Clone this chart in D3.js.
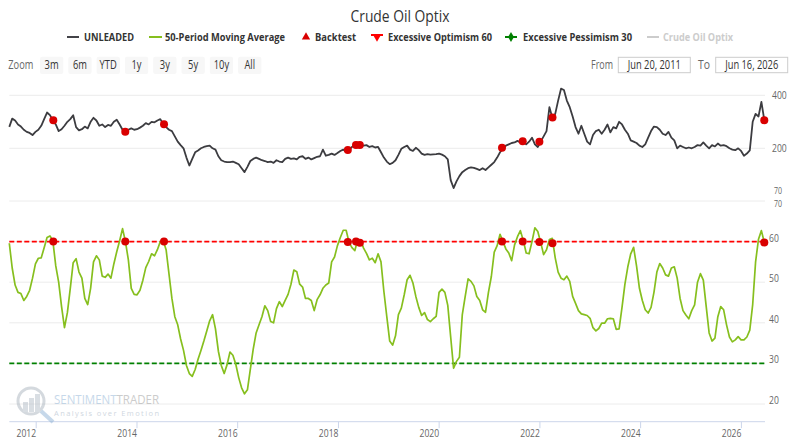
<!DOCTYPE html>
<html>
<head>
<meta charset="utf-8">
<script src="https://cdn.jsdelivr.net/npm/d3@7"></script>
<style>
  body { margin: 0; background: #fff; }
  text { font-family: "Open Sans", sans-serif; }
</style>
</head>
<body>
<svg id="chart" width="800" height="447"></svg>
<script>
// range shown by the navigator
var startDate = new Date(2011, 5, 20),
  endDate = new Date(2026, 5, 16);

// UNLEADED (cents), read every ~3 weeks
var unleaded = [
  281, 312, 305, 290, 282, 270, 262, 258, 250, 262,
  270, 285, 310, 335, 325, 306, 290, 265, 272, 285,
  300, 310, 325, 280, 268, 272, 282, 275, 300, 315,
  305, 285, 290, 280, 288, 285, 300, 308, 290, 270,
  262, 270, 275, 270, 272, 278, 285, 295, 290, 300,
  298, 305, 310, 292, 280, 270, 265, 245, 225, 212,
  200, 165, 135, 160, 185, 192, 200, 205, 208, 210,
  200, 195, 170, 155, 150, 148, 148, 150, 145, 140,
  125, 110, 130, 152, 160, 165, 160, 155, 152, 148,
  150, 145, 155, 150, 148, 160, 165, 160, 162, 158,
  168, 170, 160, 165, 158, 163, 168, 170, 195, 172,
  175, 180, 175, 182, 190, 195, 188, 194, 205, 212,
  218, 212, 210, 212, 205, 208, 203, 205, 185, 165,
  150, 140, 145, 155, 175, 198, 205, 210, 195, 190,
  202, 193, 180, 175, 178, 176, 177, 178, 180, 176,
  170, 158, 80, 50, 75, 95, 110, 118, 125, 128,
  126, 122, 118, 125, 118, 128, 138, 148, 165, 185,
  198, 210, 215, 220, 222, 228, 222, 226, 215, 225,
  240, 215, 205, 225, 245, 265, 355, 315, 330, 380,
  425, 420, 380, 355, 320, 280, 255, 285, 255, 225,
  215, 250, 265, 270, 255, 270, 290, 260, 280, 275,
  300, 290, 270, 255, 230, 225, 220, 210, 205, 215,
  240, 265, 282, 280, 270, 255, 250, 262, 240, 230,
  200, 210, 205, 200, 203, 200, 205, 212, 210, 222,
  210, 200, 212, 207, 218, 210, 212, 208, 200, 195,
  193, 200, 190, 172, 180, 192, 300, 330, 320, 375,
  306
];

// Crude Oil Optix, 50-period moving average
var optixMA = [
  59.6, 53.5, 49.3, 47.5, 47.2, 45.5, 46.5, 48.0, 51.0, 54.5,
  55.9, 56.0, 58.5, 61.0, 61.4, 60.2, 54, 50, 44, 38.8,
  42.5, 48.5, 54.8, 55.8, 52.5, 51, 46, 44.5, 48.5, 55,
  56.5, 55.5, 51.5, 51.2, 52, 51, 54.5, 57.5, 60.2, 63.2,
  60, 55.5, 48.5, 47, 46.9, 48, 50.5, 53.6, 55.1, 57,
  56.5, 58, 60, 60.2, 58, 52, 46, 41.5, 39.5, 36,
  33.2, 29.5, 27.5, 26.8, 28.5, 31, 33.2, 35.5, 38, 40.5,
  42, 38.5, 33, 29.5, 27.5, 29.7, 32.8, 32, 29.8, 26.5,
  24, 22.5, 23.5, 28.5, 33.5, 37.5, 39.5, 41.5, 44.2, 43,
  40.3, 40, 43.5, 45.2, 44, 45.5, 47, 49.5, 53, 52.6,
  49.5, 48.8, 46, 46, 45.5, 43, 45.7, 46.9, 48.5, 49.3,
  49.8, 55, 56.2, 59, 61, 62.8, 62.8, 59.8, 58.5, 57.8,
  60.5, 60.3, 58.4, 57.1, 55.5, 55.9, 54.8, 57, 55, 47.7,
  41.5, 35.5, 34.5, 36.8, 42, 43.6, 46.9, 50.6, 51.7, 49.8,
  46.5, 43.8, 41.8, 42.5, 40.8, 40.3, 41, 41.6, 47.5, 48.3,
  47.5, 44.3, 36.5, 28.8, 30.5, 31.5, 42, 46.5, 50.8, 50.2,
  49.1, 46.5, 45.5, 43.2, 42.6, 47.5, 51.4, 57.4, 59, 61.8,
  60, 58.2, 57.2, 55.3, 59.2, 61.2, 62.7, 60.3, 57.2, 57,
  60, 63.4, 62.5, 59.8, 56.8, 58, 60.5, 60.8, 56, 52.5,
  51, 50.6, 51.5, 50.2, 46.5, 44.8, 43, 42.2, 42, 41.8,
  41.1, 38.8, 38, 38.6, 39.9, 39.9, 41, 41.1, 41, 38.4,
  38.5, 43.8, 49.5, 53.8, 57, 58.6, 54, 48.5, 45.5, 43.2,
  42.4, 43.8, 47.5, 52.5, 54.6, 53.5, 51.8, 51.5, 53.5, 53.8,
  51, 46, 43, 41.9, 41, 43, 44.4, 50, 52.1, 50.5,
  44, 37.5, 35.5, 36.2, 41.5, 44, 43.2, 39.5, 36.5, 35.3,
  35.8, 36.6, 35.8, 35.8, 36.5, 38.2, 44.5, 55, 60.6, 62.7,
  59.8
];

var backtestDates = ["2012-05-04", "2013-10-08", "2014-07-16", "2018-03-10", "2018-05-08",
  "2018-06-05", "2021-04-01", "2021-08-29", "2021-12-28", "2022-04-02", "2026-06-16"];
var backtestPrice = [306, 262, 291, 194, 212, 212, 202, 227, 225, 316, 306];
var backtestOptix = [60, 60, 60, 59.9, 60, 59.7, 60, 60, 59.9, 59.6, 59.8];

var optimismLevel = 60, pessimismLevel = 30;
var yearTicks = [2012, 2014, 2016, 2018, 2020, 2022, 2024, 2026];
var optixTicks = [20, 30, 40, 50, 60, 70];
var priceTicks = [200, 400];
var priceMinLabel = "70";
var zoomButtons = ["3m", "6m", "YTD", "1y", "3y", "5y", "10y", "All"];

var parseDay = d3.timeParse("%Y-%m-%d");
var n = unleaded.length;
var dates = d3.range(n).map(function (i) {
  return new Date(+startDate + i * (endDate - startDate) / (n - 1));
});

var svg = d3.select("#chart");
var squeeze = 0.78; // the chart text is narrow

function label(x, y, str, o) {
  o = o || {};
  var t = svg.append("text")
    .attr("transform", "translate(" + x + "," + y + ") scale(" + (o.sx || squeeze) + ",1)")
    .attr("text-anchor", o.anchor || "start")
    .attr("font-size", o.size || 11)
    .attr("font-weight", o.weight || "normal")
    .attr("fill", o.color || "#666")
    .text(str);
  if (o.width) {
    t.attr("transform", "translate(" + x + "," + y + ")")
      .attr("textLength", o.width)
      .attr("lengthAdjust", "spacingAndGlyphs");
  }
  return t;
}

var x = d3.scaleTime().domain([startDate, endDate]).range([9.3, 764.3]);
var yPrice = d3.scaleLinear().domain([200, 400]).range([148.3, 95.3]);
var yOptix = d3.scaleLinear().domain([20, 70]).range([404, 201]);
var priceBottom = 194;
var axisY = 421.7;

// title
label(400, 22, "Crude Oil Optix", { anchor: "middle", size: 16, color: "#333", width: 99 });

// legend
var legY = 37, legSize = 11;
svg.append("line").attr("x1", 67).attr("x2", 79).attr("y1", legY).attr("y2", legY)
  .attr("stroke", "#434348").attr("stroke-width", 2);
label(84, legY + 4, "UNLEADED", { size: legSize, weight: "bold", color: "#333", width: 50 });
svg.append("line").attr("x1", 149).attr("x2", 162).attr("y1", legY).attr("y2", legY)
  .attr("stroke", "#86bf1e").attr("stroke-width", 2);
label(165, legY + 4, "50-Period Moving Average", { size: legSize, weight: "bold", color: "#333", width: 120 });
svg.append("path").attr("d", d3.symbol(d3.symbolTriangle, 30)())
  .attr("transform", "translate(306," + legY + ")").attr("fill", "#d90000");
label(315, legY + 4, "Backtest", { size: legSize, weight: "bold", color: "#333", width: 41 });
svg.append("line").attr("x1", 371).attr("x2", 383).attr("y1", legY - 2).attr("y2", legY - 2)
  .attr("stroke", "#ff0000").attr("stroke-width", 2);
svg.append("path").attr("d", d3.symbol(d3.symbolTriangle, 28)())
  .attr("transform", "translate(377," + legY + ") rotate(180)").attr("fill", "#ff0000");
label(388, legY + 4, "Excessive Optimism 60", { size: legSize, weight: "bold", color: "#333", width: 104 });
svg.append("line").attr("x1", 505).attr("x2", 517).attr("y1", legY).attr("y2", legY)
  .attr("stroke", "#008000").attr("stroke-width", 2);
svg.append("path").attr("d", d3.symbol(d3.symbolDiamond, 30)())
  .attr("transform", "translate(511," + legY + ")").attr("fill", "#008000");
label(523, legY + 4, "Excessive Pessimism 30", { size: legSize, weight: "bold", color: "#333", width: 109 });
svg.append("line").attr("x1", 647).attr("x2", 659).attr("y1", legY).attr("y2", legY)
  .attr("stroke", "#cccccc").attr("stroke-width", 2);
label(663, legY + 4, "Crude Oil Optix", { size: legSize, weight: "bold", color: "#cccccc", width: 70 });

// range selector
label(8.3, 69, "Zoom", { size: 12, color: "#666", width: 25 });
zoomButtons.forEach(function (b, i) {
  var bx = 40 + i * 28.3;
  svg.append("rect").attr("x", bx).attr("y", 56.7).attr("width", 23.3).attr("height", 17.3)
    .attr("rx", 2).attr("fill", "#f7f7f7");
  label(bx + 11.6, 69, b, { size: 12, color: "#333", anchor: "middle" });
});
label(591, 69, "From", { size: 12, color: "#666", width: 22 });
label(698, 69, "To", { size: 12, color: "#666", width: 12 });
[[618.3, "Jun 20, 2011"], [715.7, "Jun 16, 2026"]].forEach(function (d) {
  svg.append("rect").attr("x", d[0]).attr("y", 57.3).attr("width", 72).attr("height", 15.4)
    .attr("fill", "#fff").attr("stroke", "#cccccc");
  label(d[0] + 36, 69, d[1], { size: 12, color: "#333", anchor: "middle", width: 53 });
});

// gridlines and y labels
priceTicks.forEach(function (v) {
  svg.append("line").attr("x1", 9.3).attr("x2", 765).attr("y1", yPrice(v)).attr("y2", yPrice(v))
    .attr("stroke", "#ececec");
  label(772, yPrice(v) + 4, v);
});
label(774, priceBottom, priceMinLabel, { size: 9 });
optixTicks.forEach(function (v) {
  svg.append("line").attr("x1", 9.3).attr("x2", 765).attr("y1", yOptix(v)).attr("y2", yOptix(v))
    .attr("stroke", "#ececec");
  if (v === 70) label(774, yOptix(v) + 6, v, { size: 9 });
  else label(769, yOptix(v), v);
});

// x axis
svg.append("line").attr("x1", 9.3).attr("x2", 765).attr("y1", axisY).attr("y2", axisY)
  .attr("stroke", "#ccd6eb");
yearTicks.forEach(function (yr) {
  var tx = x(new Date(yr, 0, 1));
  svg.append("line").attr("x1", tx).attr("x2", tx).attr("y1", axisY).attr("y2", axisY + 6.5)
    .attr("stroke", "#ccd6eb");
  label(tx, 437, yr, { anchor: "end" });
});

// watermark
var wm = svg.append("g").attr("opacity", 0.5);
wm.append("circle").attr("cx", 31).attr("cy", 401).attr("r", 13)
  .attr("fill", "none").attr("stroke", "#aab4be").attr("stroke-width", 3);
[[23, 402, 5, 10], [29, 398, 5, 14], [35, 394, 5, 18]].forEach(function (r) {
  wm.append("rect").attr("x", r[0]).attr("y", r[1]).attr("width", r[2]).attr("height", r[3])
    .attr("fill", "#b5bec8");
});
wm.append("line").attr("x1", 41).attr("y1", 411).attr("x2", 53).attr("y2", 422)
  .attr("stroke", "#8fb3d6").attr("stroke-width", 4);
var wt = wm.append("text").attr("x", 54).attr("y", 404).attr("font-size", 12)
  .attr("textLength", 105).attr("lengthAdjust", "spacingAndGlyphs");
wt.append("tspan").attr("fill", "#8fb3d6").text("SENTIMENT");
wt.append("tspan").attr("fill", "#9a9a9a").text("TRADER");
wm.append("text").attr("x", 54).attr("y", 416).attr("font-size", 7.5).attr("fill", "#9fb0c2")
  .attr("textLength", 105).attr("lengthAdjust", "spacing").text("Analysis over Emotion");

// threshold lines
[[optimismLevel, "#ff0000"], [pessimismLevel, "#008000"]].forEach(function (d) {
  svg.append("line").attr("x1", 9.3).attr("x2", 765).attr("y1", yOptix(d[0])).attr("y2", yOptix(d[0]))
    .attr("stroke", d[1]).attr("stroke-width", 1.8).attr("stroke-dasharray", "5,2.5");
});

// series
var priceLine = d3.line()
  .x(function (d, i) { return x(dates[i]); })
  .y(function (d) { return yPrice(d); });
var optixLine = d3.line()
  .x(function (d, i) { return x(dates[i]); })
  .y(function (d) { return yOptix(d); });

svg.append("path").datum(unleaded).attr("d", priceLine)
  .attr("fill", "none").attr("stroke", "#3c3c40").attr("stroke-width", 1.8)
  .attr("stroke-linejoin", "round");
svg.append("path").datum(optixMA).attr("d", optixLine)
  .attr("fill", "none").attr("stroke", "#86bf1e").attr("stroke-width", 1.7)
  .attr("stroke-linejoin", "round");

// backtest markers
backtestDates.forEach(function (s, i) {
  var d = parseDay(s);
  svg.append("circle").attr("cx", x(d)).attr("cy", yPrice(backtestPrice[i])).attr("r", 4)
    .attr("fill", "#d90000");
  svg.append("circle").attr("cx", x(d)).attr("cy", yOptix(backtestOptix[i])).attr("r", 4)
    .attr("fill", "#d90000");
});
</script>
</body>
</html>
